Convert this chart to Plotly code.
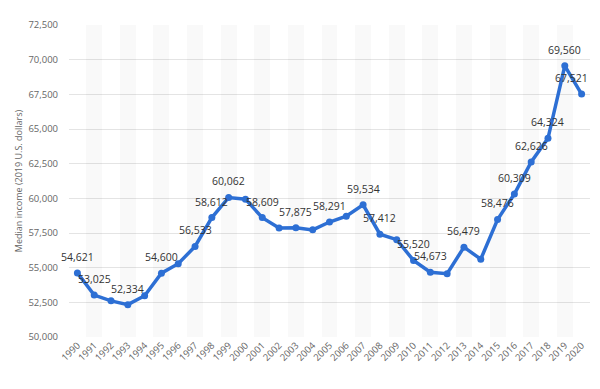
import plotly.graph_objects as go

years = list(range(1990, 2021))
income = [54621, 53025, 52608, 52334, 52978, 54600, 55286, 56533, 58612, 60062,
          59938, 58609, 57866, 57875, 57726, 58291, 58709, 59534, 57412, 57018,
          55520, 54673, 54569, 56479, 55613, 58476, 60309, 62626, 64324, 69560,
          67521]
labeled_years = [1990, 1991, 1993, 1995, 1997, 1998, 1999, 2001, 2003, 2005, 2007,
                 2008, 2010, 2011, 2013, 2015, 2016, 2017, 2018, 2019, 2020]
y_ticks = [50000, 52500, 55000, 57500, 60000, 62500, 65000, 67500, 70000, 72500]
y_title = "Median income (2019 U.S. dollars)"

band_years = [y for y in years if y % 2 == 1]

fig = go.Figure()
fig.add_trace(go.Bar(
    x=band_years, y=[y_ticks[-1] - y_ticks[0]] * len(band_years), base=y_ticks[0],
    width=0.95, marker=dict(color="rgba(0,0,0,0.022)", line=dict(width=0)),
    hoverinfo="skip", showlegend=False))
fig.add_trace(go.Scatter(
    x=years, y=income, mode="lines+markers",
    line=dict(color="#2d6fd4", width=3.5),
    marker=dict(color="#2d6fd4", size=7),
    showlegend=False, cliponaxis=False))

for y, v in zip(years, income):
    if y in labeled_years:
        fig.add_annotation(
            x=y, y=v, text=f"{v:,}", showarrow=False, yshift=16,
            xshift=-10 if y == years[-1] else 0,
            font=dict(family="Open Sans", size=10.5, color="#333333"))

fig.update_layout(
    width=592, height=381,
    margin=dict(l=59, r=10, t=12, b=52),
    paper_bgcolor="white", plot_bgcolor="white",
    font=dict(family="Open Sans", color="#666666"),
    bargap=0,
    xaxis=dict(range=[1989.5, 2020.5], tickvals=years, ticktext=[str(y) for y in years],
               tickangle=-45, tickfont=dict(size=9.5, color="#666666"),
               showgrid=False, zeroline=False, showline=False, ticks=""),
    yaxis=dict(range=[y_ticks[0], y_ticks[-1]], tickvals=y_ticks, tickformat=",d",
               tickfont=dict(size=9.5, color="#666666"),
               showgrid=True, gridcolor="#e4e4e4", gridwidth=1, zeroline=False,
               title=dict(text=y_title, font=dict(size=9, color="#666666"), standoff=4),
               ticks="", ticklabelstandoff=10),
)

fig.write_html("out.html")
